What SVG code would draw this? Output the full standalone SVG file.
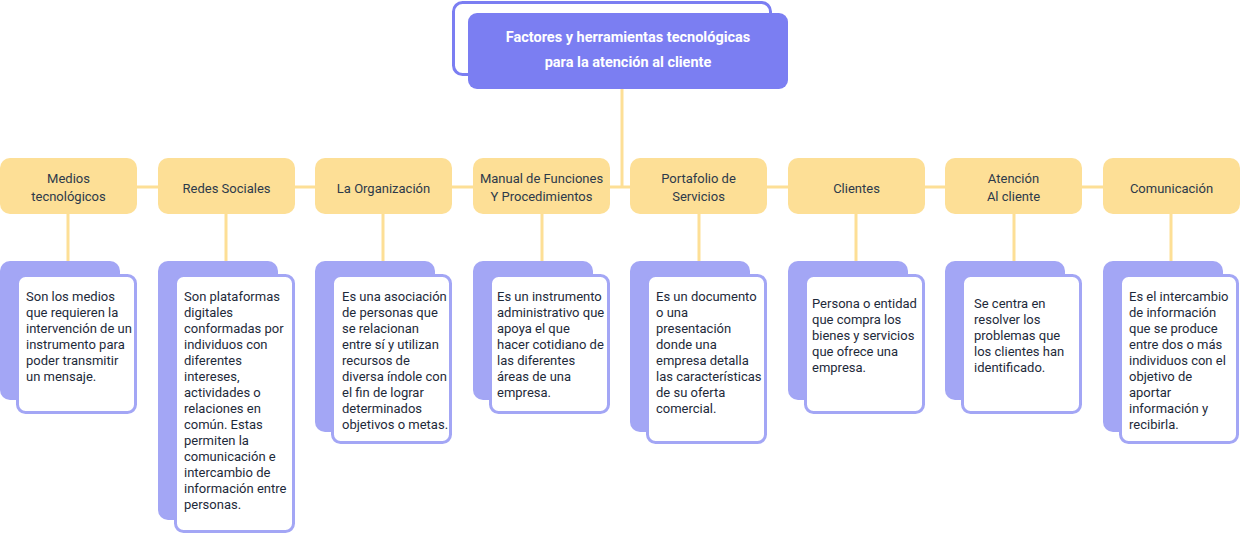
<svg xmlns="http://www.w3.org/2000/svg" width="1240" height="534" viewBox="0 0 1240 534">
<style>
.conn{stroke:#FDDF96;stroke-width:3;fill:none}
.topn{fill:#7B7EF2}
.topb{fill:#fff;stroke:#7B7EF2;stroke-width:3}
.tt{font-family:Roboto,"Liberation Sans",sans-serif;font-size:14.5px;font-weight:bold;fill:#fff;text-anchor:middle}
.yn{fill:#FDDF96}
.yt{font-family:Roboto,"Liberation Sans",sans-serif;font-size:13px;fill:#2D3A4A;text-anchor:middle}
.cb{fill:#A3A6F5}
.cf{fill:#fff;stroke:#A3A6F5;stroke-width:3}
.ct{font-family:Roboto,"Liberation Sans",sans-serif;font-size:13px;fill:#1E2A3A}
</style>
<g id="connectors">
<path class="conn" d="M622 89V187"/>
<path class="conn" d="M68 187H1171"/>
<path class="conn" d="M68 214V261M226 214V261M383 214V261M542 214V261M699 214V261M856 214V261M1014 214V261M1171 214V261"/>
</g>
<g id="title">
<rect class="topb" x="453.5" y="2.5" width="317" height="72" rx="9"/>
<rect class="topn" x="468" y="13" width="320" height="76" rx="9"/>
<text class="tt" x="628" y="41.5">Factores y herramientas tecnológicas</text>
<text class="tt" x="628" y="66.5">para la atención al cliente</text>
</g>
<g id="n1">
<rect class="yn" x="0" y="158" width="137" height="56" rx="10"/>
<text class="yt" x="68.5" y="183">Medios</text><text class="yt" x="68.5" y="201">tecnológicos</text>
</g>
<g id="n2">
<rect class="yn" x="158" y="158" width="137" height="56" rx="10"/>
<text class="yt" x="226.5" y="193">Redes Sociales</text>
</g>
<g id="n3">
<rect class="yn" x="315" y="158" width="137" height="56" rx="10"/>
<text class="yt" x="383.5" y="193">La Organización</text>
</g>
<g id="n4">
<rect class="yn" x="473" y="158" width="137" height="56" rx="10"/>
<text class="yt" x="541.5" y="183">Manual de Funciones</text><text class="yt" x="541.5" y="201">Y Procedimientos</text>
</g>
<g id="n5">
<rect class="yn" x="630" y="158" width="137" height="56" rx="10"/>
<text class="yt" x="698.5" y="183">Portafolio de</text><text class="yt" x="698.5" y="201">Servicios</text>
</g>
<g id="n6">
<rect class="yn" x="788" y="158" width="137" height="56" rx="10"/>
<text class="yt" x="856.5" y="193">Clientes</text>
</g>
<g id="n7">
<rect class="yn" x="945" y="158" width="137" height="56" rx="10"/>
<text class="yt" x="1013.5" y="183">Atención</text><text class="yt" x="1013.5" y="201">Al cliente</text>
</g>
<g id="n8">
<rect class="yn" x="1103" y="158" width="137" height="56" rx="10"/>
<text class="yt" x="1171.5" y="193">Comunicación</text>
</g>
<g id="c1">
<rect class="cb" x="0" y="261" width="120" height="139" rx="10"/>
<rect class="cf" x="17.5" y="275.5" width="118" height="137" rx="8"/>
<text class="ct" x="26" y="300.5"><tspan x="26">Son los medios</tspan><tspan x="26" dy="16">que requieren la</tspan><tspan x="26" dy="16">intervención de un</tspan><tspan x="26" dy="16">instrumento para</tspan><tspan x="26" dy="16">poder transmitir</tspan><tspan x="26" dy="16">un mensaje.</tspan></text>
</g>
<g id="c2">
<rect class="cb" x="158" y="261" width="120" height="259" rx="10"/>
<rect class="cf" x="175.5" y="275.5" width="118" height="256" rx="8"/>
<text class="ct" x="184" y="300.5"><tspan x="184">Son plataformas</tspan><tspan x="184" dy="16">digitales</tspan><tspan x="184" dy="16">conformadas por</tspan><tspan x="184" dy="16">individuos con</tspan><tspan x="184" dy="16">diferentes</tspan><tspan x="184" dy="16">intereses,</tspan><tspan x="184" dy="16">actividades o</tspan><tspan x="184" dy="16">relaciones en</tspan><tspan x="184" dy="16">común. Estas</tspan><tspan x="184" dy="16">permiten la</tspan><tspan x="184" dy="16">comunicación e</tspan><tspan x="184" dy="16">intercambio de</tspan><tspan x="184" dy="16">información entre</tspan><tspan x="184" dy="16">personas.</tspan></text>
</g>
<g id="c3">
<rect class="cb" x="315" y="261" width="120" height="171" rx="10"/>
<rect class="cf" x="332.5" y="275.5" width="118" height="167" rx="8"/>
<text class="ct" x="342" y="300.5"><tspan x="342">Es una asociación</tspan><tspan x="342" dy="16">de personas que</tspan><tspan x="342" dy="16">se relacionan</tspan><tspan x="342" dy="16">entre sí y utilizan</tspan><tspan x="342" dy="16">recursos de</tspan><tspan x="342" dy="16">diversa índole con</tspan><tspan x="342" dy="16">el fin de lograr</tspan><tspan x="342" dy="16">determinados</tspan><tspan x="342" dy="16">objetivos o metas.</tspan></text>
</g>
<g id="c4">
<rect class="cb" x="473" y="261" width="120" height="139" rx="10"/>
<rect class="cf" x="490.5" y="275.5" width="118" height="137" rx="8"/>
<text class="ct" x="497" y="300.5"><tspan x="497">Es un instrumento</tspan><tspan x="497" dy="16">administrativo que</tspan><tspan x="497" dy="16">apoya el que</tspan><tspan x="497" dy="16">hacer cotidiano de</tspan><tspan x="497" dy="16">las diferentes</tspan><tspan x="497" dy="16">áreas de una</tspan><tspan x="497" dy="16">empresa.</tspan></text>
</g>
<g id="c5">
<rect class="cb" x="630" y="261" width="120" height="171" rx="10"/>
<rect class="cf" x="647.5" y="275.5" width="118" height="167" rx="8"/>
<text class="ct" x="656" y="300.5"><tspan x="656">Es un documento</tspan><tspan x="656" dy="16">o una</tspan><tspan x="656" dy="16">presentación</tspan><tspan x="656" dy="16">donde una</tspan><tspan x="656" dy="16">empresa detalla</tspan><tspan x="656" dy="16">las características</tspan><tspan x="656" dy="16">de su oferta</tspan><tspan x="656" dy="16">comercial.</tspan></text>
</g>
<g id="c6">
<rect class="cb" x="788" y="261" width="120" height="139" rx="10"/>
<rect class="cf" x="805.5" y="275.5" width="118" height="137" rx="8"/>
<text class="ct" x="812" y="307.5"><tspan x="812">Persona o entidad</tspan><tspan x="812" dy="16">que compra los</tspan><tspan x="812" dy="16">bienes y servicios</tspan><tspan x="812" dy="16">que ofrece una</tspan><tspan x="812" dy="16">empresa.</tspan></text>
</g>
<g id="c7">
<rect class="cb" x="945" y="261" width="120" height="139" rx="10"/>
<rect class="cf" x="962.5" y="275.5" width="118" height="137" rx="8"/>
<text class="ct" x="974" y="307.5"><tspan x="974">Se centra en</tspan><tspan x="974" dy="16">resolver los</tspan><tspan x="974" dy="16">problemas que</tspan><tspan x="974" dy="16">los clientes han</tspan><tspan x="974" dy="16">identificado.</tspan></text>
</g>
<g id="c8">
<rect class="cb" x="1103" y="261" width="120" height="171" rx="10"/>
<rect class="cf" x="1120.5" y="275.5" width="117" height="167" rx="8"/>
<text class="ct" x="1129" y="300.5"><tspan x="1129">Es el intercambio</tspan><tspan x="1129" dy="16">de información</tspan><tspan x="1129" dy="16">que se produce</tspan><tspan x="1129" dy="16">entre dos o más</tspan><tspan x="1129" dy="16">individuos con el</tspan><tspan x="1129" dy="16">objetivo de</tspan><tspan x="1129" dy="16">aportar</tspan><tspan x="1129" dy="16">información y</tspan><tspan x="1129" dy="16">recibirla.</tspan></text>
</g>
</svg>
